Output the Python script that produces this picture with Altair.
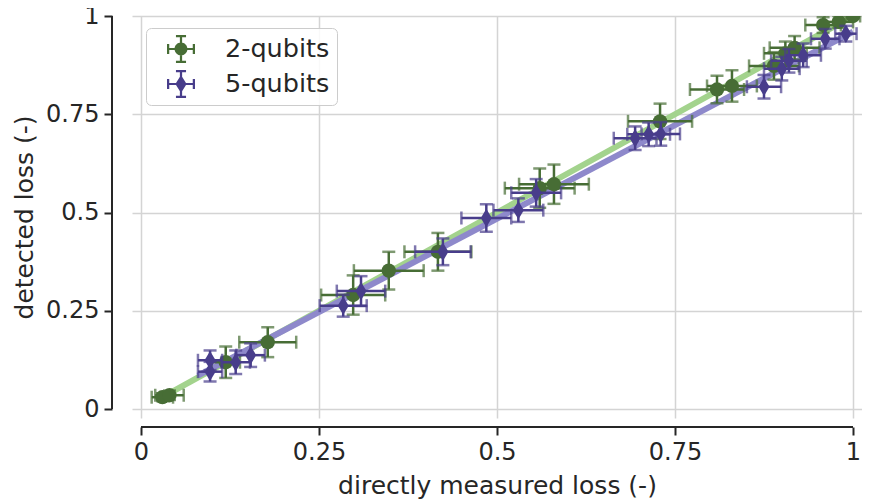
import altair as alt
import pandas as pd

# ---------------- data ----------------
g_x = [0.030, 0.040, 0.119, 0.178, 0.298, 0.348, 0.417, 0.560, 0.580, 0.729,
       0.809, 0.830, 0.889, 0.905, 0.918, 0.958, 0.980, 1.000]
g_y = [0.030, 0.035, 0.119, 0.170, 0.290, 0.352, 0.400, 0.562, 0.572, 0.732,
       0.813, 0.822, 0.873, 0.905, 0.919, 0.977, 0.985, 1.000]
g_xerr = [0.015, 0.020, 0.020, 0.040, 0.045, 0.049, 0.047, 0.049, 0.049, 0.045,
          0.038, 0.035, 0.035, 0.030, 0.035, 0.025, 0.020, 0.010]
g_yerr = [0.010, 0.012, 0.040, 0.038, 0.050, 0.048, 0.048, 0.050, 0.050, 0.045,
          0.035, 0.040, 0.035, 0.030, 0.030, 0.020, 0.015, 0.005]

p_x = [0.097, 0.097, 0.133, 0.154, 0.284, 0.309, 0.424, 0.485, 0.530, 0.555,
       0.694, 0.713, 0.730, 0.875, 0.900, 0.910, 0.930, 0.961, 0.990]
p_y = [0.095, 0.124, 0.119, 0.137, 0.263, 0.300, 0.400, 0.486, 0.506, 0.550,
       0.689, 0.699, 0.700, 0.820, 0.866, 0.886, 0.900, 0.942, 0.955]
p_xerr = [0.017, 0.017, 0.020, 0.020, 0.033, 0.034, 0.039, 0.035, 0.035, 0.035,
          0.030, 0.030, 0.027, 0.024, 0.025, 0.025, 0.025, 0.020, 0.015]
p_yerr = [0.025, 0.025, 0.030, 0.030, 0.028, 0.038, 0.034, 0.035, 0.030, 0.035,
          0.030, 0.030, 0.030, 0.030, 0.030, 0.030, 0.030, 0.025, 0.020]

g_fit_x = [0.030, 1.000]
g_fit_y = [0.030, 1.000]
p_fit_x = [0.080, 1.000]
p_fit_y = [0.085, 0.960]

series = ["2-qubits", "5-qubits"]
ticks = [0, 0.25, 0.5, 0.75, 1]

# ---------------- styling ----------------
FONT = "DejaVu Sans"
TXT = "#262626"
G_COL = "#476d35"
P_COL = "#483d8b"
G_LINE = "#a3d38d"
P_LINE = "#8e89cb"
W, H = 730, 402
XDOM = [-0.01264, 1.01264]
YDOM = [-0.0229, 1.0]

xs = alt.Scale(domain=XDOM, nice=False, zero=False)
ys = alt.Scale(domain=YDOM, nice=False, zero=False)


def frame(x, y, xe, ye, name):
    d = pd.DataFrame({"x": x, "y": y, "xe": xe, "ye": ye})
    d["xlo"] = d.x - d.xe
    d["xhi"] = d.x + d.xe
    d["ylo"] = d.y - d.ye
    d["yhi"] = d.y + d.ye
    d["series"] = name
    return d


gd = frame(g_x, g_y, g_xerr, g_yerr, series[0])
pd_ = frame(p_x, p_y, p_xerr, p_yerr, series[1])
both = pd.concat([gd, pd_], ignore_index=True)

X = lambda f: alt.X(f, type="quantitative", scale=xs)
Y = lambda f: alt.Y(f, type="quantitative", scale=ys)

x_axis = alt.Axis(values=ticks, format=".2~f", title="directly measured loss (-)",
                  offset=9, domain=False, grid=True, titlePadding=9)
y_axis = alt.Axis(values=ticks, format=".2~f", title="detected loss (-)",
                  offset=20, domain=False, grid=True, titlePadding=8)

base_x = alt.X("x:Q", scale=xs, axis=x_axis)
base_y = alt.Y("y:Q", scale=ys, axis=y_axis)

g_fit = alt.Chart(pd.DataFrame({"x": g_fit_x, "y": g_fit_y})).mark_line(
    color=G_LINE, strokeWidth=6, clip=True).encode(x=base_x, y=base_y)
p_fit = alt.Chart(pd.DataFrame({"x": p_fit_x, "y": p_fit_y})).mark_line(
    color=P_LINE, strokeWidth=6, clip=True).encode(x=X("x"), y=Y("y"))


def errlayers(d, col, shape, size):
    c = alt.Chart(d)
    sw = 2.5
    cs = 13
    hb = c.mark_rule(color=col, strokeWidth=sw, clip=True).encode(
        x=X("xlo"), x2="xhi", y=Y("y"))
    vb = c.mark_rule(color=col, strokeWidth=sw, clip=True).encode(
        x=X("x"), y=Y("ylo"), y2="yhi")
    c1 = c.mark_tick(color=col, orient="vertical", size=cs, thickness=sw,
                     clip=True).encode(x=X("xlo"), y=Y("y"))
    c2 = c.mark_tick(color=col, orient="vertical", size=cs, thickness=sw,
                     clip=True).encode(x=X("xhi"), y=Y("y"))
    c3 = c.mark_tick(color=col, orient="horizontal", size=cs, thickness=sw,
                     clip=True).encode(x=X("x"), y=Y("ylo"))
    c4 = c.mark_tick(color=col, orient="horizontal", size=cs, thickness=sw,
                     clip=True).encode(x=X("x"), y=Y("yhi"))
    pt = c.mark_point(color=col, shape=shape, filled=True, opacity=1,
                      size=size, clip=True).encode(x=X("x"), y=Y("y"))
    return [hb, vb, c1, c2, c3, c4, pt]


DIAMOND = "M0,-1L0.6,0L0,1L-0.6,0Z"


def rect(x0, y0, x1, y1):
    return f"M{x0},{y0}L{x1},{y0}L{x1},{y1}L{x0},{y1}Z"


t = 0.08
cap = 0.36
EB = (rect(-1, -t, 1, t) + rect(-t, -1, t, 1)
      + rect(-1, -cap, -1 + 2 * t, cap) + rect(1 - 2 * t, -cap, 1, cap)
      + rect(-cap, -1, cap, -1 + 2 * t) + rect(-cap, 1 - 2 * t, cap, 1))
LEG_G = EB + "M0.46,0A0.46,0.46 0 1,1 -0.46,0A0.46,0.46 0 1,1 0.46,0Z"
LEG_P = EB + "M0,-0.64L0.4,0L0,0.64L-0.4,0Z"

legend_layer = alt.Chart(both).mark_point(filled=True, opacity=0).encode(
    x=X("x"), y=Y("y"),
    color=alt.Color("series:N", scale=alt.Scale(domain=series, range=[G_COL, P_COL]),
                    legend=alt.Legend(title=None)),
    shape=alt.Shape("series:N", scale=alt.Scale(domain=series, range=[LEG_G, LEG_P]),
                    legend=alt.Legend(title=None)),
)

spine_df = pd.DataFrame({"a": [0.0], "b": [1.0]})
x_spine = alt.Chart(spine_df).mark_rule(color=TXT, strokeWidth=2).encode(
    x=X("a"), x2="b", y=alt.value(H + 9))
y_spine = alt.Chart(spine_df).mark_rule(color=TXT, strokeWidth=2).encode(
    y=Y("a"), y2="b", x=alt.value(-20))

layers = [g_fit, p_fit] + errlayers(gd, G_COL, "circle", 205) + \
    errlayers(pd_, P_COL, DIAMOND, 340) + [legend_layer, x_spine, y_spine]

chart = alt.layer(*layers).properties(
    width=W, height=H,
    autosize=alt.AutoSizeParams(type="none"),
    padding={"left": 124, "top": 8, "right": 0, "bottom": 82},
).configure_view(stroke=None).configure_axis(
    labelFont=FONT, titleFont=FONT, labelFontSize=24, titleFontSize=25,
    labelColor=TXT, titleColor=TXT, titleFontWeight="normal",
    gridColor="#d4d4d4", gridWidth=1.5, tickColor=TXT, tickWidth=2,
    tickSize=8, labelPadding=5,
).configure_legend(
    orient="none", legendX=14, legendY=12, padding=7, symbolOffset=14,
    symbolSize=784, symbolOpacity=1, symbolStrokeWidth=0,
    labelFont=FONT, labelFontSize=25.5, labelColor=TXT, labelOffset=30,
    rowPadding=7, strokeColor="#cccccc", fillColor="rgba(255,255,255,0.85)",
    cornerRadius=5,
)

chart.save("out.html", embed_options={"renderer": "svg", "actions": False})
